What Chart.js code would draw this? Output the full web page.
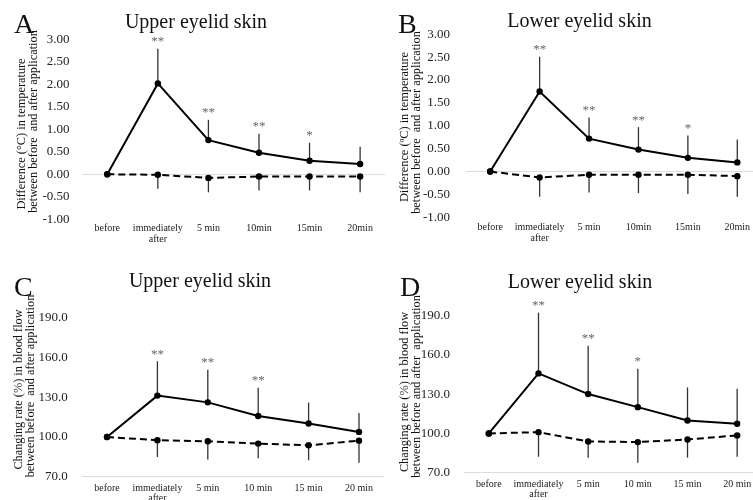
<!DOCTYPE html>
<html>
<head>
<meta charset="utf-8">
<script src="https://cdn.jsdelivr.net/npm/chart.js@4.4.0/dist/chart.umd.min.js"></script>
<style>
  html, body { margin: 0; padding: 0; background: #fff; width: 753px; height: 500px; overflow: hidden; }
  canvas { position: absolute; }
</style>
</head>
<body>
<canvas id="chartA" width="390" height="250" style="left:0;top:0"></canvas>
<canvas id="chartB" width="390" height="250" style="left:376px;top:0"></canvas>
<canvas id="chartC" width="390" height="250" style="left:0;top:250px"></canvas>
<canvas id="chartD" width="390" height="250" style="left:376px;top:250px"></canvas>
<script>
// categories
const tempLabels = ['before', ['immediately', 'after'], '5 min', '10min', '15min', '20min'];
const flowLabels = ['before', ['immediately', 'after'], '5 min', '10 min', '15 min', '20 min'];

// tick labels
const tempTicks = [-1, -0.5, 0, 0.5, 1, 1.5, 2, 2.5, 3];
const flowTicks = [70, 100, 130, 160, 190];

// A: upper eyelid, temperature difference (degC)
const upperTempTreated = [0, 2.02, 0.76, 0.48, 0.30, 0.23];
const upperTempTreatedSd = [0, 0.77, 0.45, 0.42, 0.40, 0.38];
const upperTempControl = [0, -0.01, -0.08, -0.05, -0.05, -0.05];
const upperTempControlSd = [0, 0.31, 0.32, 0.31, 0.31, 0.35];
const upperTempStars = ['', '**', '**', '**', '*', ''];

// B: lower eyelid, temperature difference (degC)
const lowerTempTreated = [0, 1.75, 0.72, 0.48, 0.30, 0.20];
const lowerTempTreatedSd = [0, 0.76, 0.46, 0.49, 0.49, 0.50];
const lowerTempControl = [0, -0.13, -0.07, -0.07, -0.07, -0.10];
const lowerTempControlSd = [0, 0.42, 0.39, 0.40, 0.42, 0.45];
const lowerTempStars = ['', '**', '**', '**', '*', ''];

// C: upper eyelid, blood flow change rate (%)
const upperFlowTreated = [100, 131.2, 126.1, 115.8, 110.1, 103.8];
const upperFlowTreatedSd = [0, 25.9, 24.7, 21.4, 15.8, 14.3];
const upperFlowControl = [100, 97.5, 96.7, 95.0, 93.7, 97.2];
const upperFlowControlSd = [0, 12.6, 13.8, 11.1, 11.3, 16.6];
const upperFlowStars = ['', '**', '**', '**', '', ''];

// D: lower eyelid, blood flow change rate (%)
const lowerFlowTreated = [100, 145.9, 130.1, 120.1, 109.9, 107.4];
const lowerFlowTreatedSd = [0, 46.4, 36.9, 29.3, 25.3, 26.8];
const lowerFlowControl = [100, 101.0, 93.9, 93.4, 95.4, 98.5];
const lowerFlowControlSd = [0, 18.8, 12.4, 15.7, 13.9, 16.3];
const lowerFlowStars = ['', '**', '**', '*', '', ''];

const SERIF = "'Liberation Serif', 'DejaVu Serif', serif";

// draws error bars, stars, panel letter, title and the 2-line y title
const panelPlugin = {
  id: 'panel',
  beforeDatasetsDraw(chart, args, opts) {
    const ctx = chart.ctx;
    const x = chart.scales.x, y = chart.scales.y;
    ctx.save();
    ctx.strokeStyle = '#333';
    ctx.lineWidth = 1.3;
    opts.errors.forEach(e => {
      e.mean.forEach((m, i) => {
        if (!e.sd[i]) return;
        const px = x.getPixelForValue(i);
        ctx.beginPath();
        ctx.moveTo(px, y.getPixelForValue(m));
        ctx.lineTo(px, y.getPixelForValue(m + e.dir * e.sd[i]));
        ctx.stroke();
      });
    });
    ctx.restore();
  },
  afterDraw(chart, args, opts) {
    const ctx = chart.ctx;
    const x = chart.scales.x, y = chart.scales.y;
    ctx.save();
    // significance marks
    ctx.fillStyle = '#666';
    ctx.font = '13px ' + SERIF;
    ctx.textAlign = 'center';
    ctx.textBaseline = 'alphabetic';
    const e = opts.errors[0];
    opts.stars.forEach((s, i) => {
      if (!s) return;
      ctx.fillText(s, x.getPixelForValue(i), y.getPixelForValue(e.mean[i] + e.sd[i]) - 3.5);
    });
    // letter
    ctx.fillStyle = '#111';
    ctx.textAlign = 'left';
    ctx.font = '28px ' + SERIF;
    ctx.fillText(opts.letter, opts.letterPos[0], opts.letterPos[1]);
    // title
    ctx.textAlign = 'center';
    ctx.font = '20px ' + SERIF;
    ctx.fillText(opts.title, opts.titlePos[0], opts.titlePos[1]);
    // y title
    ctx.font = '12.3px ' + SERIF;
    ctx.textBaseline = 'middle';
    opts.yTitle.forEach(l => {
      ctx.save();
      ctx.translate(l.x, l.y);
      ctx.rotate(-Math.PI / 2);
      ctx.fillText(l.text, 0, 0);
      ctx.restore();
    });
    ctx.restore();
  }
};

function makeChart(id, p) {
  const canvas = document.getElementById(id);
  const W = canvas.width, H = canvas.height;
  const fmt = p.decimals;
  new Chart(canvas, {
    type: 'line',
    data: {
      labels: p.labels,
      datasets: [
        {
          data: p.treated,
          borderColor: '#000',
          borderWidth: 2,
          pointRadius: 3.2,
          pointBackgroundColor: '#000',
          pointBorderWidth: 0,
          tension: 0
        },
        {
          data: p.control,
          borderColor: '#000',
          borderWidth: 2,
          borderDash: [7, 4],
          pointRadius: 3.2,
          pointBackgroundColor: '#000',
          pointBorderWidth: 0,
          tension: 0
        }
      ]
    },
    options: {
      responsive: false,
      animation: false,
      layout: { padding: { left: 0, top: p.area.top, right: W - p.area.right, bottom: 0 } },
      plugins: {
        legend: { display: false },
        tooltip: { enabled: false },
        panel: {
          letter: p.letter, letterPos: p.letterPos,
          title: p.title, titlePos: p.titlePos,
          yTitle: p.yTitle,
          stars: p.stars,
          errors: [
            { mean: p.treated, sd: p.treatedSd, dir: 1 },
            { mean: p.control, sd: p.controlSd, dir: -1 }
          ]
        }
      },
      scales: {
        x: {
          offset: true,
          grid: { display: false, drawTicks: false },
          border: { display: false },
          ticks: {
            autoSkip: false, maxRotation: 0, padding: p.xPad,
            color: '#222',
            font: { family: SERIF, size: 10, lineHeight: 1.05 }
          },
          afterFit(s) { s.height = H - p.area.bottom; }
        },
        y: {
          min: p.ticks[0],
          max: p.ticks[p.ticks.length - 1],
          afterBuildTicks(s) { s.ticks = p.ticks.map(v => ({ value: v })); },
          grid: {
            drawTicks: false,
            color: c => (c.tick && c.tick.value === p.baseline) ? '#dcdcdc' : 'rgba(0,0,0,0)'
          },
          border: { display: false },
          ticks: {
            padding: p.yPad,
            color: '#222',
            font: { family: SERIF, size: 13 },
            callback: v => Number(v).toFixed(fmt)
          },
          afterFit(s) { s.width = p.area.left; }
        }
      }
    },
    plugins: [panelPlugin]
  });
}

makeChart('chartA', {
  labels: tempLabels, ticks: tempTicks, decimals: 2, baseline: 0,
  treated: upperTempTreated, treatedSd: upperTempTreatedSd,
  control: upperTempControl, controlSd: upperTempControlSd, stars: upperTempStars,
  area: { left: 82, right: 385.4, top: 39.3, bottom: 219.3 }, yPad: 12.5, xPad: 4,
  letter: 'A', letterPos: [14, 33], title: 'Upper eyelid skin', titlePos: [196, 28],
  yTitle: [
    { text: 'Difference (°C) in temperature', x: 22, y: 134 },
    { text: 'between before  and after application', x: 33.5, y: 121.5 }
  ]
});

makeChart('chartB', {
  labels: tempLabels, ticks: tempTicks, decimals: 2, baseline: 0,
  treated: lowerTempTreated, treatedSd: lowerTempTreatedSd,
  control: lowerTempControl, controlSd: lowerTempControlSd, stars: lowerTempStars,
  area: { left: 89.5, right: 388, top: 34.3, bottom: 217.3 }, yPad: 15.5, xPad: 5,
  letter: 'B', letterPos: [22, 33], title: 'Lower eyelid skin', titlePos: [203.5, 27],
  yTitle: [
    { text: 'Difference (ºC) in temperature', x: 29, y: 127 },
    { text: 'between before  and after application', x: 41, y: 122.5 }
  ]
});

makeChart('chartC', {
  labels: flowLabels, ticks: flowTicks, decimals: 1, baseline: 70,
  treated: upperFlowTreated, treatedSd: upperFlowTreatedSd,
  control: upperFlowControl, controlSd: upperFlowControlSd, stars: upperFlowStars,
  area: { left: 81.8, right: 384.2, top: 67.7, bottom: 226.7 }, yPad: 14, xPad: 6,
  letter: 'C', letterPos: [14, 46], title: 'Upper eyelid skin', titlePos: [200, 37],
  yTitle: [
    { text: 'Changing rate (%) in blood flow', x: 19, y: 139.5 },
    { text: 'between before  and after application', x: 31, y: 136 }
  ]
});

makeChart('chartD', {
  labels: flowLabels, ticks: flowTicks, decimals: 1, baseline: 70,
  treated: lowerFlowTreated, treatedSd: lowerFlowTreatedSd,
  control: lowerFlowControl, controlSd: lowerFlowControlSd, stars: lowerFlowStars,
  area: { left: 88, right: 389, top: 65.7, bottom: 222.7 }, yPad: 14, xPad: 6,
  letter: 'D', letterPos: [24, 46], title: 'Lower eyelid skin', titlePos: [204, 38],
  yTitle: [
    { text: 'Changing rate (%) in blood flow', x: 29, y: 142 },
    { text: 'between before and after  application', x: 41, y: 136.5 }
  ]
});
</script>
</body>
</html>
